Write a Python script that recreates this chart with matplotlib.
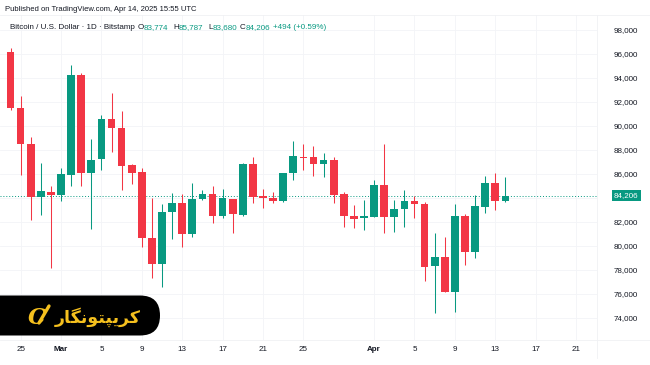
import matplotlib
matplotlib.use("Agg")
import matplotlib.pyplot as plt
from matplotlib.patches import FancyBboxPatch
from matplotlib.transforms import blended_transform_factory

# ---- data (Feb 24 .. Apr 14, 2025, daily) ----
opens = [96200, 91500, 88500, 84050, 84530, 84250, 85920, 94250, 86060, 87220,
         90560, 89860, 86750, 86140, 80690, 78500, 82860, 83610, 81000, 83920,
         84330, 82500, 83890, 82600, 86830, 84170, 83970, 83750, 86060, 87440,
         87440, 86830, 87170, 84310, 82530, 82310, 82440, 85080, 82390, 83110,
         83780, 83470, 78330, 79060, 76190, 82500, 79470, 83280, 85220, 83774]
highs = [96500, 92500, 89100, 86950, 85000, 86530, 95080, 94400, 88890, 90920,
         92720, 91250, 86850, 86470, 83970, 83500, 84390, 84330, 85220, 84670,
         85030, 84720, 83950, 86900, 87390, 84750, 84470, 86100, 88750, 88500,
         88330, 87720, 87390, 84530, 83420, 83830, 85500, 88500, 83830, 84670,
         84170, 83690, 81110, 80780, 83500, 82670, 84250, 85830, 86060, 85787]
lows = [91350, 85950, 82150, 82600, 78150, 83750, 85030, 85030, 81420, 86330,
        87860, 84670, 85170, 79940, 77360, 76560, 80560, 79890, 80780, 83830,
        81940, 82330, 81110, 82500, 83610, 83140, 83610, 83700, 85500, 86330,
        85830, 85780, 83560, 81560, 81470, 81330, 82400, 81110, 81190, 81610,
        82310, 77110, 74390, 76140, 74530, 78420, 78970, 82720, 83000, 83680]
closes = [91500, 88500, 84050, 84580, 84250, 85970, 94250, 86080, 87170, 90580,
          89810, 86670, 86110, 80640, 78500, 82810, 83560, 81000, 83920, 84330,
          82530, 83970, 82640, 86830, 84110, 84030, 83750, 86060, 87500, 87330,
          86830, 87170, 84250, 82530, 82250, 82500, 85080, 82390, 83080, 83760,
          83460, 78280, 79060, 76140, 82500, 79470, 83330, 85220, 83712, 84206]

x_tick_pos = [1, 5, 9, 13, 17, 21, 25, 29, 36, 40, 44, 48, 52, 56]
x_tick_labels = ["25", "Mar", "5", "9", "13", "17", "21", "25", "Apr", "5", "9", "13", "17", "21"]
y_ticks = [74000, 76000, 78000, 80000, 82000, 86000, 88000,
           90000, 92000, 94000, 96000, 98000]
grid_y = [74000, 76000, 78000, 80000, 82000, 84000, 86000, 88000,
          90000, 92000, 94000, 96000, 98000]

GREEN = "#089981"
RED = "#f23645"
TXT = "#131722"
FONT = "Liberation Sans"

fig = plt.figure(figsize=(6.5, 3.65), dpi=100)
fig.patch.set_facecolor("white")

W, H = 650, 365
ax = fig.add_axes([0 / W, (H - 340) / H, 597 / W, 325 / H])
ax.set_facecolor("white")

n = len(opens)
for i in range(n):
    o, h, l, c = opens[i], highs[i], lows[i], closes[i]
    col = GREEN if c >= o else RED
    ax.vlines(i, l, h, color=col, linewidth=0.75, zorder=2)
    bot = min(o, c)
    ht = max(abs(c - o), 90)
    ax.bar(i, ht, bottom=bot, width=0.76, color=col, linewidth=0, zorder=3)

ax.set_xlim(-1.04, 58.07)
ax.set_ylim(72167, 99250)

# last price line
ax.axhline(closes[-1], color=GREEN, linewidth=0.7, linestyle=(0, (1, 2)), zorder=1)

# grid
for yt in grid_y:
    ax.axhline(yt, color="#f3f4f7", linewidth=0.6, zorder=0)
for xt in x_tick_pos:
    ax.axvline(xt, color="#f3f4f7", linewidth=0.6, zorder=0)

for s in ax.spines.values():
    s.set_visible(False)

ax.yaxis.tick_right()
ax.set_yticks(y_ticks)
ax.set_yticklabels([f"{v:,}" for v in y_ticks])
ax.tick_params(axis="y", length=0, pad=12.2, labelsize=5.8, labelcolor=TXT)
ax.set_xticks(x_tick_pos)
ax.set_xticklabels(x_tick_labels)
ax.tick_params(axis="x", length=0, pad=4.3, labelsize=5.8, labelcolor=TXT)
for lab in ax.get_xticklabels() + ax.get_yticklabels():
    lab.set_fontfamily(FONT)
for lab in ax.get_xticklabels():
    if lab.get_text() in ("Mar", "Apr"):
        lab.set_fontweight("bold")

# last price label
tr = blended_transform_factory(ax.transAxes, ax.transData)
ax.text(614 / 597, closes[-1], f"{closes[-1]:,}", transform=tr, ha="left", va="center",
        fontsize=5.8, family=FONT, color="white", clip_on=False,
        bbox=dict(boxstyle="square,pad=0.3", fc=GREEN, ec="none"))

# ---- overlay in pixel coordinates ----
ov = fig.add_axes([0, 0, 1, 1], zorder=10)
ov.set_xlim(0, W)
ov.set_ylim(H, 0)
ov.axis("off")
ov.patch.set_alpha(0)

# faint frame
ov.plot([0, W], [15, 15], color="#f0f1f4", lw=0.6)
ov.plot([0, W], [340, 340], color="#f0f1f4", lw=0.6)
ov.plot([597, 597], [15, 358], color="#f0f1f4", lw=0.6)

ov.text(5, 11, "Published on TradingView.com, Apr 14, 2025 15:55 UTC", fontsize=5.5,
        family=FONT, color=TXT, va="baseline", ha="left")

BL = 29
FS2 = 5.8
ov.text(10, BL, "Bitcoin / U.S. Dollar · 1D · Bitstamp", fontsize=FS2, family=FONT,
        color=TXT, va="baseline", ha="left")
ohlc_items = [(138, 6.0, "O", f"{opens[-1]:,}"), (173, 5.6, "H", f"{highs[-1]:,}"),
              (208, 4.4, "L", f"{lows[-1]:,}"), (240, 5.6, "C", f"{closes[-1]:,}")]
for xp, lw_, letter, val in ohlc_items:
    ov.text(xp, BL, letter, fontsize=FS2, family=FONT, color=TXT, va="baseline", ha="left")
    ov.text(xp + lw_, BL, val, fontsize=FS2, family=FONT, color=GREEN, va="baseline", ha="left")
chg = closes[-1] - closes[-2]
ov.text(273, BL, f"+{chg:,} (+{chg / closes[-2] * 100:.2f}%)", fontsize=FS2, family=FONT,
        color=GREEN, va="baseline", ha="left")

# logo
ov.add_patch(FancyBboxPatch((-40, 295.5), 200, 40, boxstyle="round,pad=0,rounding_size=20",
                            fc="black", ec="none"))
GOLD = "#f5c01e"
persian = "\uFEAD\uFE8E\uFB95\uFEE7\uFEEE\uFE98\uFB59\uFBFE\uFEAE\uFB90"
ov.text(98, 317, persian, fontsize=12.5, family="DejaVu Sans", fontweight="bold",
        color=GOLD, ha="center", va="center")
ov.text(37, 318, "C", fontsize=16, family="DejaVu Serif", fontweight="bold",
        fontstyle="italic", color=GOLD, ha="center", va="center")
ov.plot([39, 49], [323, 306], color=GOLD, lw=2.4, solid_capstyle="round")

fig.savefig("out.png", dpi=100, facecolor="white")
